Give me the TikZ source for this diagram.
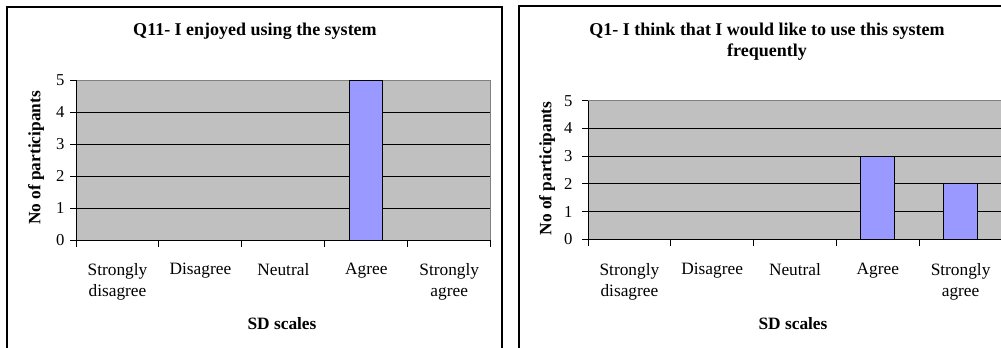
\documentclass[tikz,border=0pt]{standalone}
\usepackage{fontspec}
\setmainfont{Liberation Serif}

\definecolor{plotgray}{HTML}{C0C0C0}
\definecolor{bordergray}{HTML}{808080}
\definecolor{barblue}{HTML}{9999FF}

\tikzset{
	lbl/.style={font=\fontsize{13}{15.75}\selectfont, inner sep=0pt},
	ticklbl/.style={font=\fontsize{12.5}{15}\selectfont, inner sep=0pt},
	boldlbl/.style={font=\fontsize{13}{15.75}\selectfont\bfseries, inner sep=0pt},
	titlelbl/.style={font=\fontsize{13.5}{15.75}\selectfont\bfseries, inner sep=0pt},
}

\begin{document}
\begin{tikzpicture}[x=0.75pt,y=-0.75pt,line width=0.75pt]
	
	\useasboundingbox (0,0) rectangle (1001,347);
	\clip (0,0) rectangle (1001,347);
	
	% ===== Left chart: Q11 =====
	\def\xa{76}
	\def\xb{490.7}
	\def\ya{240}
	\def\yu{32}
	\pgfmathsetmacro{\cw}{(\xb-\xa)/5}
	
	\draw [line width=1pt] (7,7) rectangle (502,360);
	
	% The plot area and its grid
	\fill [plotgray] (\xa,\ya) rectangle (\xb,\ya-5*\yu);
	\foreach \v in {1,...,4}{
		\draw (\xa,\ya-\v*\yu) -- (\xb,\ya-\v*\yu);
	}
	\draw [bordergray] (\xa,\ya-5*\yu) -- (\xb,\ya-5*\yu) -- (\xb,\ya);
	
	% The bar
	\draw [fill=barblue] (\xa+3.5*\cw-16.5,\ya) rectangle (\xa+3.5*\cw+16.5,\ya-5*\yu);
	
	% Axes, ticks and their labels
	\draw (\xa,\ya-5*\yu) -- (\xa,\ya) -- (\xb,\ya);
	\foreach \v in {0,...,5}{
		\draw (\xa-6,\ya-\v*\yu) -- (\xa,\ya-\v*\yu);
		\node [ticklbl,anchor=east] (qa-tick\v) at (\xa-11,\ya-\v*\yu) {\v};
	}
	\foreach \i/\name in {0/{Strongly\\disagree},1/Disagree,2/Neutral,3/Agree,4/{Strongly\\agree}}{
		\draw (\xa+\i*\cw,\ya) -- ++(0,7);
		\node [lbl,align=center,anchor=north] (qa-cat\i) at (\xa+\i*\cw+0.5*\cw,263) {\name};
	}
	\draw (\xb,\ya) -- ++(0,7);
	
	\node [titlelbl,anchor=base] (qa-title) at (255,35.5) {Q11- I enjoyed using the system};
	\node [boldlbl,rotate=90] (qa-ylab) at (36,158) {No of participants};
	\node [boldlbl] (qa-xlab) at (282,324) {SD scales};
	
	% ===== Right chart: Q1 =====
	\def\xa{588}
	\def\xb{1002}
	\def\ya{239.3}
	\def\yu{27.72}
	\pgfmathsetmacro{\cw}{(\xb-\xa)/5}
	
	\draw [line width=1pt] (519,6) rectangle (1010,360);
	
	% The plot area and its grid
	\fill [plotgray] (\xa,\ya) rectangle (\xb,\ya-5*\yu);
	\foreach \v in {1,...,4}{
		\draw (\xa,\ya-\v*\yu) -- (\xb,\ya-\v*\yu);
	}
	\draw [bordergray] (\xa,\ya-5*\yu) -- (\xb,\ya-5*\yu) -- (\xb,\ya);
	
	% The bars
	\draw [fill=barblue] (\xa+3.5*\cw-17,\ya) rectangle (\xa+3.5*\cw+17,\ya-3*\yu);
	\draw [fill=barblue] (\xa+4.5*\cw-17,\ya) rectangle (\xa+4.5*\cw+17,\ya-2*\yu);
	
	% Axes, ticks and their labels
	\draw (\xa,\ya-5*\yu) -- (\xa,\ya) -- (\xb,\ya);
	\foreach \v in {0,...,5}{
		\draw (\xa-6,\ya-\v*\yu) -- (\xa,\ya-\v*\yu);
		\node [ticklbl,anchor=east] (qb-tick\v) at (\xa-15,\ya-\v*\yu) {\v};
	}
	\foreach \i/\name in {0/{Strongly\\disagree},1/Disagree,2/Neutral,3/Agree,4/{Strongly\\agree}}{
		\draw (\xa+\i*\cw,\ya) -- ++(0,7);
		\node [lbl,align=center,anchor=north] (qb-cat\i) at (\xa+\i*\cw+0.5*\cw,263) {\name};
	}
	
	\node [titlelbl,align=center,anchor=north] (qb-title) at (767,22.5) {Q1- I think that I would like to use this system\\frequently};
	\node [boldlbl,rotate=90] (qb-ylab) at (547,168.5) {No of participants};
	\node [boldlbl] (qb-xlab) at (793,324) {SD scales};
	
\end{tikzpicture}
\end{document}
